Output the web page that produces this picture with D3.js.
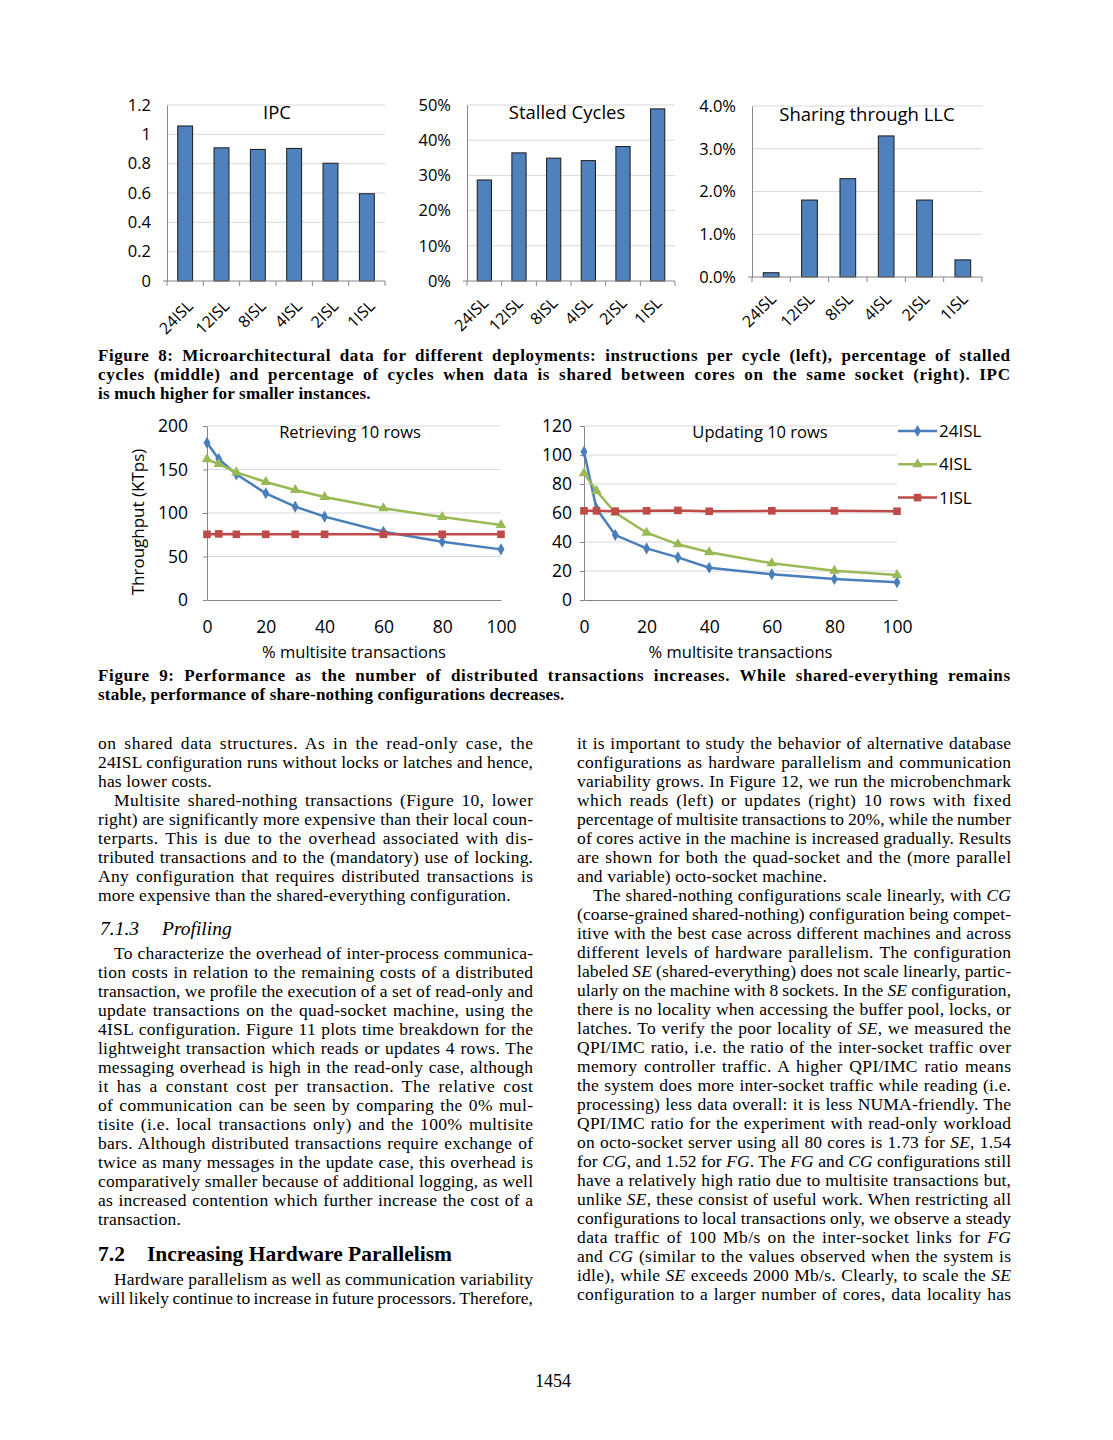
<!DOCTYPE html>
<html><head><meta charset="utf-8">
<script src="https://cdn.jsdelivr.net/npm/d3@7"></script>
<style>
body{margin:0;background:#fff;}
svg{display:block;background:#fff;}
</style></head><body><svg id="page" width="1113" height="1440"></svg>
<script>
// ---------------- data ----------------
const configs = ["24ISL","12ISL","8ISL","4ISL","2ISL","1ISL"];
const ipcValues = [1.057, 0.908, 0.897, 0.904, 0.803, 0.595];
const stalledValues = [0.287, 0.364, 0.349, 0.342, 0.382, 0.489];
const llcValues = [0.001, 0.018, 0.023, 0.033, 0.018, 0.004];
const ipcTicks = [0, 0.2, 0.4, 0.6, 0.8, 1, 1.2];
const stalledTicks = [0, 0.1, 0.2, 0.3, 0.4, 0.5];
const llcTicks = [0, 0.01, 0.02, 0.03, 0.04];

const multisitePct = [0, 4, 10, 20, 30, 40, 60, 80, 100];
const seriesNames = ["24ISL", "4ISL", "1ISL"];
const retrieve24 = [180.8, 162, 144.4, 122.6, 107.3, 95.8, 78.5, 67, 58.2];
const retrieve4  = [161.7, 156.3, 146.7, 135.6, 126.4, 118.4, 105.4, 95.4, 86.2];
const retrieve1  = [75.5, 76, 75.5, 75.5, 75.5, 75.5, 75.5, 75.5, 75.5];
const update24 = [102.3, 63, 44.8, 35.6, 29.4, 22.3, 17.7, 14.5, 12.2];
const update4  = [87.4, 75.2, 60.2, 46.4, 38.4, 32.9, 25.3, 20.2, 17.2];
const update1  = [61.5, 61.5, 61.2, 61.5, 61.8, 61.2, 61.5, 61.5, 61.2];
const retrieveTicks = [0, 50, 100, 150, 200];
const updateTicks = [0, 20, 40, 60, 80, 100, 120];
const xTicks = [0, 20, 40, 60, 80, 100];

const fig8Caption = [
  "Figure 8: Microarchitectural data for different deployments: instructions per cycle (left), percentage of stalled",
  "cycles (middle) and percentage of cycles when data is shared between cores on the same socket (right). IPC",
  "is much higher for smaller instances."
];
const fig9Caption = [
  "Figure 9: Performance as the number of distributed transactions increases. While shared-everything remains",
  "stable, performance of share-nothing configurations decreases."
];
const leftColumn = [
  {type:"p", indent:false, justifyLast:false, lines:[
    "on shared data structures. As in the read-only case, the",
    "24ISL configuration runs without locks or latches and hence,",
    "has lower costs."]},
  {type:"p", indent:true, justifyLast:false, lines:[
    "Multisite shared-nothing transactions (Figure 10, lower",
    "right) are significantly more expensive than their local coun-",
    "terparts. This is due to the overhead associated with dis-",
    "tributed transactions and to the (mandatory) use of locking.",
    "Any configuration that requires distributed transactions is",
    "more expensive than the shared-everything configuration."]},
  {type:"h3", num:"7.1.3", text:"Profiling"},
  {type:"p", indent:true, justifyLast:false, lines:[
    "To characterize the overhead of inter-process communica-",
    "tion costs in relation to the remaining costs of a distributed",
    "transaction, we profile the execution of a set of read-only and",
    "update transactions on the quad-socket machine, using the",
    "4ISL configuration. Figure 11 plots time breakdown for the",
    "lightweight transaction which reads or updates 4 rows. The",
    "messaging overhead is high in the read-only case, although",
    "it has a constant cost per transaction. The relative cost",
    "of communication can be seen by comparing the 0% mul-",
    "tisite (i.e. local transactions only) and the 100% multisite",
    "bars. Although distributed transactions require exchange of",
    "twice as many messages in the update case, this overhead is",
    "comparatively smaller because of additional logging, as well",
    "as increased contention which further increase the cost of a",
    "transaction."]},
  {type:"h2", num:"7.2", text:"Increasing Hardware Parallelism"},
  {type:"p", indent:true, justifyLast:true, lines:[
    "Hardware parallelism as well as communication variability",
    "will likely continue to increase in future processors. Therefore,"]}
];
const rightColumn = [
  {type:"p", indent:false, justifyLast:false, lines:[
    "it is important to study the behavior of alternative database",
    "configurations as hardware parallelism and communication",
    "variability grows. In Figure 12, we run the microbenchmark",
    "which reads (left) or updates (right) 10 rows with fixed",
    "percentage of multisite transactions to 20%, while the number",
    "of cores active in the machine is increased gradually. Results",
    "are shown for both the quad-socket and the (more parallel",
    "and variable) octo-socket machine."]},
  {type:"p", indent:true, justifyLast:true, lines:[
    "The shared-nothing configurations scale linearly, with *CG*",
    "(coarse-grained shared-nothing) configuration being compet-",
    "itive with the best case across different machines and across",
    "different levels of hardware parallelism. The configuration",
    "labeled *SE* (shared-everything) does not scale linearly, partic-",
    "ularly on the machine with 8 sockets. In the *SE* configuration,",
    "there is no locality when accessing the buffer pool, locks, or",
    "latches. To verify the poor locality of *SE*, we measured the",
    "QPI/IMC ratio, i.e. the ratio of the inter-socket traffic over",
    "memory controller traffic. A higher QPI/IMC ratio means",
    "the system does more inter-socket traffic while reading (i.e.",
    "processing) less data overall: it is less NUMA-friendly. The",
    "QPI/IMC ratio for the experiment with read-only workload",
    "on octo-socket server using all 80 cores is 1.73 for *SE*, 1.54",
    "for *CG*, and 1.52 for *FG*. The *FG* and *CG* configurations still",
    "have a relatively high ratio due to multisite transactions but,",
    "unlike *SE*, these consist of useful work. When restricting all",
    "configurations to local transactions only, we observe a steady",
    "data traffic of 100 Mb/s on the inter-socket links for *FG*",
    "and *CG* (similar to the values observed when the system is",
    "idle), while *SE* exceeds 2000 Mb/s. Clearly, to scale the *SE*",
    "configuration to a larger number of cores, data locality has"]}
];
const pageNumber = "1454";

// ---------------- drawing ----------------
const svg = d3.select("#page");
const SANS = "'Open Sans', sans-serif";
const SERIF = "'Liberation Serif', 'Times New Roman', serif";
const BAR = "#4f81bd", AXIS = "#868686", GRID = "#d9d9d9";

function styleAxisText(sel, size){
  sel.selectAll("text").attr("font-family", SANS).attr("font-size", size).attr("fill", "#000");
}

function barChart(o){
  const g = svg.append("g");
  const x = d3.scaleBand().domain(configs).range([o.x0, o.x1]).paddingInner(0.59).paddingOuter(0.295);
  const y = d3.scaleLinear().domain([0, o.max]).range([o.yBot, o.yTop]);
  g.selectAll("line.grid").data(o.ticks.filter(t => t > 0)).join("line").attr("class","grid")
    .attr("x1", o.x0).attr("x2", o.x1).attr("y1", d => y(d)).attr("y2", d => y(d))
    .attr("stroke", GRID).attr("stroke-width", 1);
  const ya = d3.axisLeft(y).tickValues(o.ticks).tickFormat(o.fmt).tickSize(0).tickSizeOuter(0).tickPadding(16);
  g.append("g").attr("transform", `translate(${o.x0},0)`).call(ya)
    .call(s => { s.select(".domain").attr("stroke", AXIS); styleAxisText(s, 16.5); });
  g.selectAll("rect.bar").data(o.values).join("rect").attr("class","bar")
    .attr("x", (d, i) => x(configs[i])).attr("width", x.bandwidth())
    .attr("y", d => y(d)).attr("height", d => y(0) - y(d))
    .attr("fill", BAR).attr("stroke", "#1a1a1a").attr("stroke-width", 1);
  const step = x.step();
  g.append("line").attr("x1", o.x0 - 4).attr("x2", o.x1).attr("y1", o.yBot).attr("y2", o.yBot).attr("stroke", AXIS);
  g.selectAll("line.xt").data(d3.range(configs.length + 1)).join("line").attr("class","xt")
    .attr("x1", i => o.x0 + i * step).attr("x2", i => o.x0 + i * step)
    .attr("y1", o.yBot).attr("y2", o.yBot + 5).attr("stroke", AXIS);
  g.selectAll("text.xl").data(configs).join("text").attr("class","xl")
    .attr("transform", d => `translate(${x(d) + x.bandwidth()/2 + o.ldx},${o.yBot + o.ldy}) rotate(-45)`)
    .attr("text-anchor", "end").attr("font-family", SANS).attr("font-size", 16).text(d => d);
  g.append("text").attr("x", o.titleX).attr("y", o.titleY).attr("text-anchor", "middle")
    .attr("font-family", SANS).attr("font-size", 18.5).text(o.title);
}

barChart({x0:167, x1:385, yTop:105, yBot:281, max:1.2, values:ipcValues, ticks:ipcTicks,
  fmt: d => d3.format("")(+d.toFixed(1)), title:"IPC", titleX:277, titleY:119, ldx:9, ldy:26});
barChart({x0:467, x1:675, yTop:105, yBot:281, max:0.5, values:stalledValues, ticks:stalledTicks,
  fmt: d3.format(".0%"), title:"Stalled Cycles", titleX:567, titleY:119, ldx:5, ldy:23});
barChart({x0:752, x1:982, yTop:106, yBot:277, max:0.04, values:llcValues, ticks:llcTicks,
  fmt: d3.format(".1%"), title:"Sharing through LLC", titleX:867, titleY:121, ldx:6, ldy:23});

const seriesStyle = [
  {color:"#4a7ebb", symbol:d3.symbolDiamond, size:42},
  {color:"#98b954", symbol:d3.symbolTriangle, size:48},
  {color:"#be4b48", symbol:d3.symbolSquare, size:58}
];

function lineChart(o){
  const g = svg.append("g");
  const x = d3.scaleLinear().domain([0, 100]).range([o.x0, o.x1]);
  const y = d3.scaleLinear().domain([0, o.max]).range([600, 426]);
  g.selectAll("line.grid").data(o.ticks.filter(t => t > 0)).join("line").attr("class","grid")
    .attr("x1", o.x0).attr("x2", o.x1).attr("y1", d => y(d)).attr("y2", d => y(d)).attr("stroke", GRID);
  const ya = d3.axisLeft(y).tickValues(o.ticks).tickSize(4).tickSizeOuter(0).tickPadding(o.ypad);
  g.append("g").attr("transform", `translate(${o.x0},0)`).call(ya)
    .call(s => { s.select(".domain").attr("stroke", AXIS); s.selectAll("line").attr("stroke", AXIS); styleAxisText(s, 17.5); });
  const xa = d3.axisBottom(x).tickValues(xTicks).tickSize(0).tickSizeOuter(0);
  g.append("g").attr("transform", "translate(0,600)").call(xa)
    .call(s => { s.select(".domain").attr("stroke", AXIS); styleAxisText(s, 17.5); s.selectAll("text").attr("dy", null).attr("y", 33); });
  g.append("text").attr("x", (o.x0 + o.x1)/2).attr("y", 658).attr("text-anchor", "middle")
    .attr("font-family", SANS).attr("font-size", 16.5).text("% multisite transactions");
  const line = d3.line().x((d, i) => x(multisitePct[i])).y(d => y(d));
  o.series.forEach((vals, k) => {
    const st = seriesStyle[k];
    g.append("path").attr("d", line(vals)).attr("fill", "none").attr("stroke", st.color).attr("stroke-width", 2.5);
  });
  o.series.forEach((vals, k) => {
    const st = seriesStyle[k];
    g.selectAll(null).data(vals).join("path")
      .attr("transform", (d, i) => `translate(${x(multisitePct[i])},${y(d)})`)
      .attr("d", d3.symbol().type(st.symbol).size(st.size)).attr("fill", st.color);
  });
  g.append("text").attr("x", o.titleX).attr("y", 438).attr("text-anchor", "middle")
    .attr("font-family", SANS).attr("font-size", 16.5).text(o.title);
}

lineChart({x0:207, x1:501, max:200, ticks:retrieveTicks, ypad:15, series:[retrieve24, retrieve4, retrieve1], title:"Retrieving 10 rows", titleX:350});
lineChart({x0:584, x1:897, max:120, ticks:updateTicks, ypad:8, series:[update24, update4, update1], title:"Updating 10 rows", titleX:760});

svg.append("text").attr("transform", "translate(144,522) rotate(-90)").attr("text-anchor", "middle")
  .attr("font-family", SANS).attr("font-size", 17).text("Throughput (KTps)");

// legend
const lg = svg.append("g");
seriesNames.forEach((name, k) => {
  const st = seriesStyle[k];
  const yy = 431 + k * 33.3;
  lg.append("line").attr("x1", 898).attr("x2", 937).attr("y1", yy).attr("y2", yy).attr("stroke", st.color).attr("stroke-width", 2.5);
  lg.append("path").attr("transform", `translate(917.5,${yy})`).attr("d", d3.symbol().type(st.symbol).size(st.size)).attr("fill", st.color);
  lg.append("text").attr("x", 939).attr("y", yy + 6).attr("font-family", SANS).attr("font-size", 17).text(name);
});

// ---------------- text ----------------
function textLine(str, x, y, o){
  const t = svg.append("text").attr("x", x).attr("y", y)
    .attr("font-family", o.family || SERIF).attr("font-size", o.size)
    .attr("font-weight", o.weight || "normal").attr("font-style", o.style || "normal").attr("fill", "#000");
  str.split("*").forEach((p, i) => { if (p.length) { const ts = t.append("tspan").text(p); if (i % 2) ts.attr("font-style", "italic"); } });
  if (o.ls) t.attr("letter-spacing", o.ls);
  if (o.width) {
    const natural = t.node().getComputedTextLength();
    const plain = str.replace(/\*/g, "");
    const spaces = (plain.match(/ /g) || []).length;
    const chars = plain.length - 1;
    const excess = o.width - natural;
    const lsShare = excess * 0.45;
    const ls = (o.ls || 0) + lsShare / chars;
    t.attr("letter-spacing", ls.toFixed(3));
    const natural2 = t.node().getComputedTextLength() - ls;
    if (spaces > 0) t.attr("word-spacing", ((o.width - natural2) / spaces).toFixed(3));
  }
  return t;
}

function caption(lines, x, y0, width){
  lines.forEach((l, i) => textLine(l, x, y0 + i * 19.2, {size:17, weight:"bold", ls:0.2, width: i < lines.length - 1 ? width : null}));
}
caption(fig8Caption, 98, 361, 912);
caption(fig9Caption, 98, 681, 912);

function column(blocks, x, width, startY){
  let y = startY;
  blocks.forEach(b => {
    if (b.type === "p") {
      b.lines.forEach((l, i) => {
        const ind = (b.indent && i === 0) ? 16 : 0;
        const last = i === b.lines.length - 1;
        textLine(l, x + ind, y, {size:17.5, ls:0.15, width: (!last || b.justifyLast) ? width - ind : null});
        y += 19;
      });
    } else if (b.type === "h3") {
      y += 15;
      textLine(b.num, x + 2, y, {size:19.5, style:"italic"});
      textLine(b.text, x + 64, y, {size:19.5, style:"italic"});
      y += 24;
    } else if (b.type === "h2") {
      y += 17;
      textLine(b.num, x, y, {size:21.5, weight:"bold"});
      textLine(b.text, x + 49, y, {size:21.5, weight:"bold"});
      y += 24;
    }
  });
}
column(leftColumn, 98, 435, 749);
column(rightColumn, 577, 434, 749);

svg.append("text").attr("x", 553).attr("y", 1387).attr("text-anchor", "middle")
  .attr("font-family", SERIF).attr("font-size", 18).text(pageNumber);
</script></body></html>
